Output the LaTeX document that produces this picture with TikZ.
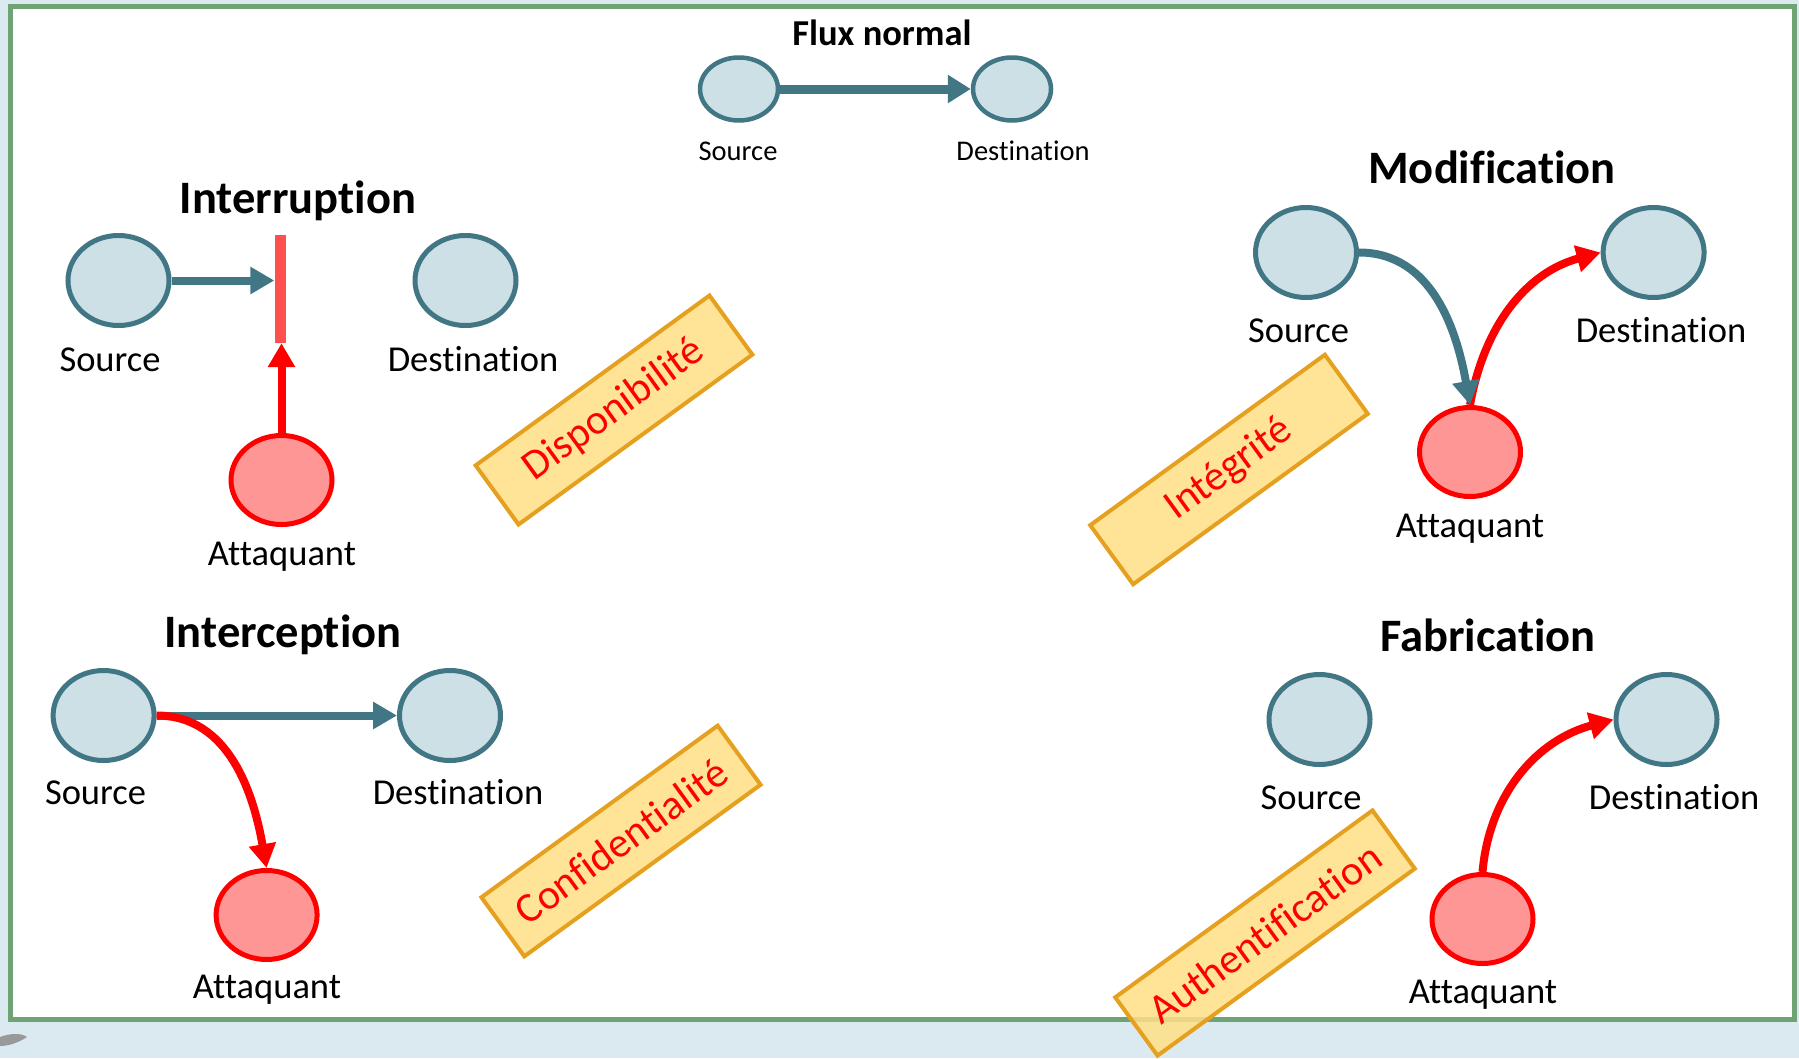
\documentclass[tikz,border=0pt]{standalone}
\usepackage{fontspec}
\setmainfont{Carlito}[Ligatures={NoCommon}]
\usetikzlibrary{arrows.meta,shapes.geometric}
% zero kern that keeps t+i and f+i as separate glyphs
\newcommand\nolg{\kern0pt }

\definecolor{pagebg}{RGB}{219,234,240}
\definecolor{framegreen}{RGB}{112,163,116}
\definecolor{nodefill}{RGB}{204,224,230}
\definecolor{nodeline}{RGB}{65,118,133}
\definecolor{atkfill}{RGB}{255,150,150}
\definecolor{cutred}{RGB}{255,80,80}
\definecolor{tagfill}{RGB}{255,224,135}
\definecolor{tagline}{RGB}{230,160,32}

\tikzset{
  host/.style={ellipse, draw=nodeline, fill=nodefill, line width=5pt,
    minimum width=101pt, minimum height=90pt, inner sep=0pt},
  smallhost/.style={host, line width=4.5pt, minimum width=78pt, minimum height=63pt},
  attacker/.style={ellipse, draw=red, fill=atkfill, line width=5pt,
    minimum width=101pt, minimum height=89pt, inner sep=0pt},
  lbl/.style={anchor=base, inner sep=0pt, font=\fontsize{36.5}{40}\selectfont},
  smalllbl/.style={anchor=base, inner sep=0pt, font=\fontsize{28.5}{32}\selectfont},
  title/.style={anchor=base, inner sep=0pt, font=\fontsize{46.5}{50}\selectfont\bfseries},
  flow/.style={draw=nodeline, line width=8pt, -{Triangle[length=24pt,width=26pt]}},
  attack/.style={draw=red, line width=8pt, -{Triangle[length=24pt,width=26pt]}},
  tag/.style={draw=tagline, line width=4pt, fill=tagfill, fill opacity=0.85,
    text opacity=1, text=red, rotate=36, minimum height=73pt, inner sep=0pt,
    font=\fontsize{42}{46}\selectfont},
}

\begin{document}
\begin{tikzpicture}[x=1pt,y=1pt]
\useasboundingbox (0,0) rectangle (1799,-1058);

% slide background and framed panel
\fill[pagebg] (0,0) rectangle (1799,-1058);
\draw[framegreen, line width=5pt, fill=white] (10.5,-6.5) rectangle (1794,-1019.5);
\fill[black!40] (0,-1037) .. controls (10,-1033) and (22,-1033) .. (27,-1037)
  .. controls (18,-1043) and (8,-1046) .. (0,-1046) -- cycle;

% normal flow
\node[title, font=\fontsize{36.5}{40}\selectfont\bfseries] (ftitle) at (882,-45) {Flux normal};
\node[smallhost] (fsrc) at (739,-89) {};
\node[smallhost] (fdst) at (1012,-89) {};
\node[smalllbl] (fsrcl) at (738,-160) {Source};
\node[smalllbl] (fdstl) at (1023,-160) {Destinat\nolg ion};
\draw[flow, line width=9pt, -{Triangle[length=23pt,width=27pt]}] (fsrc) -- (fdst);

% interruption
\node[title] (ititle) at (298,-213) {Interruption};
\node[host] (isrc) at (118.5,-280.5) {};
\node[host] (idst) at (465.5,-280.5) {};
\node[attacker] (iatk) at (281.5,-480) {};
\node[fill=cutred, minimum width=11pt, minimum height=108pt, inner sep=0pt] (ibar) at (280,-289) {};
\node[lbl] (isrcl) at (110,-371) {Source};
\node[lbl] (idstl) at (473,-371) {Destinat\nolg ion};
\node[lbl] (iatkl) at (282,-565) {Attaquant};
\draw[flow] (isrc.east) -- (ibar.west |- isrc.east);
\draw[attack] (iatk.north) -- (ibar.south -| iatk.north);

% interception
\node[title] (ctitle) at (283,-647) {Interception};
\node[host] (csrc) at (103.6,-715.5) {};
\node[host] (cdst) at (450,-715.5) {};
\node[attacker] (catk) at (266.6,-915) {};
\node[lbl] (csrcl) at (95.5,-804) {Source};
\node[lbl] (cdstl) at (458,-804) {Destinat\nolg ion};
\node[lbl] (catkl) at (267,-998) {Attaquant};
\draw[flow] (csrc) -- (cdst);
\draw[attack] (csrc.east) to[out=0,in=100] (catk.north);

% modification
\node[title] (mtitle) at (1492,-183) {Modification};
\node[host] (msrc) at (1306,-252.5) {};
\node[host] (mdst) at (1653.6,-252.5) {};
\node[attacker] (matk) at (1470,-452) {};
\node[lbl] (msrcl) at (1298.5,-342) {Source};
\node[lbl] (mdstl) at (1661,-342) {Destinat\nolg ion};
\node[lbl] (matkl) at (1470,-537) {Attaquant};
\draw[attack] (matk.north) to[out=80,in=195] (mdst.west);
\draw[flow] (msrc.east) to[out=0,in=100] (matk.north);

% fabrication
\node[title] (btitle) at (1488,-651) {Fabrication};
\node[host] (bsrc) at (1319.5,-719.5) {};
\node[host] (bdst) at (1666.5,-719.5) {};
\node[attacker] (batk) at (1482.5,-919) {};
\node[lbl] (bsrcl) at (1311,-809) {Source};
\node[lbl] (bdstl) at (1674,-809) {Destinat\nolg ion};
\node[lbl] (batkl) at (1483,-1003) {Attaquant};
\draw[attack] (batk.north) to[out=85,in=195] (bdst.west);

% security properties
\node[tag, minimum width=289pt] (tdispo) at (614,-410) {Disponibilité};
\node[tag, minimum width=292pt] (tconf) at (621,-841) {Conf\nolg identiali\nolg té};
\node[tag, minimum width=290pt] (tinteg) at (1229,-469.5) {Intégrité};
\node[tag, minimum width=318pt, minimum height=72pt] (tauth) at (1265,-933) {Authent\nolg if\nolg icat\nolg ion};
\end{tikzpicture}
\end{document}
